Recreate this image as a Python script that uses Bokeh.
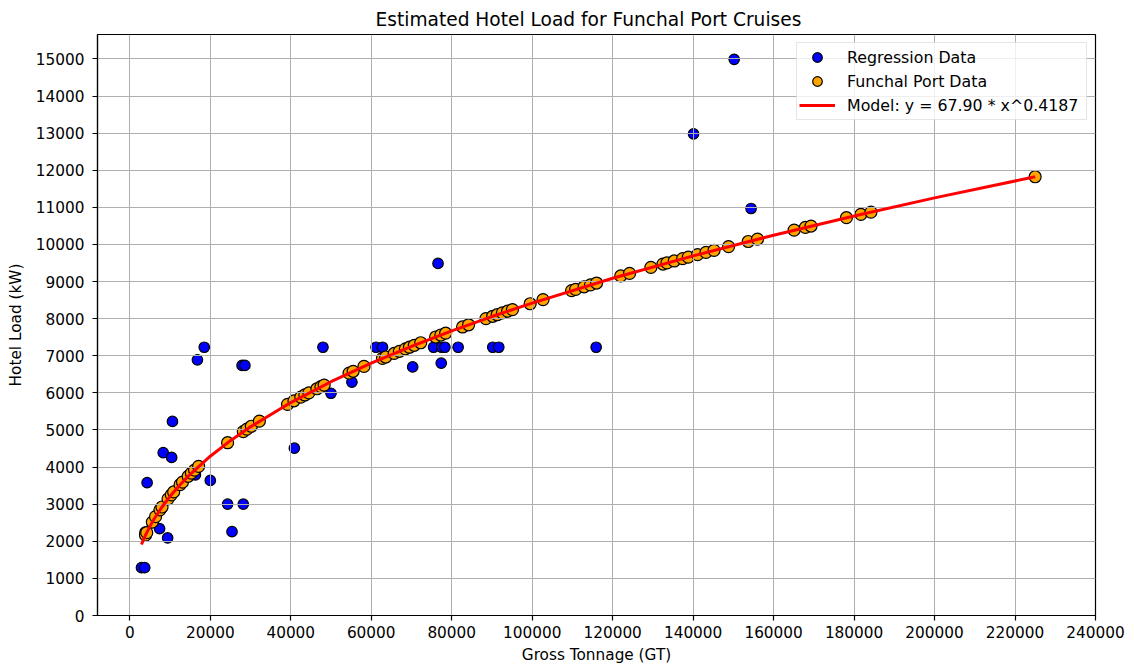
from bokeh.plotting import figure
from bokeh.models import FixedTicker, BasicTickFormatter, Range1d
from bokeh.embed import file_html
from bokeh.resources import INLINE

# Regression data (blue)
reg_gt = [2900, 3700, 3800, 4300, 7400, 9400, 8300, 10400, 10600, 16300,
          16800, 18500, 20000, 24300, 25400, 28200, 27900, 28600, 40900, 48000,
          50000, 55200, 61200, 62800, 70300, 75500, 76600, 77500, 77400, 78300,
          81600, 90200, 91700, 115900, 140100, 150200, 154400]
reg_kw = [1290, 1290, 2250, 3580, 2340, 2090, 4390, 4260, 5230, 3790,
          6890, 7230, 3640, 3000, 2260, 3000, 6740, 6740, 4510, 7230,
          5990, 6290, 7230, 7230, 6700, 7230, 9490, 7230, 6800, 7230,
          7230, 7230, 7230, 7230, 12980, 14990, 10970]

# Funchal port data (orange)
fun_gt = [3900, 4200, 5600, 6400, 7500, 8000, 9500, 10300, 10900, 12500,
          13100, 14500, 15300, 16100, 17100, 24300, 28200, 29100, 30200, 32200,
          39200, 40800, 42500, 43500, 44500, 46500, 47500, 48300, 54500, 55500,
          58200, 62800, 63600, 65700, 67000, 68500, 69500, 70700, 72300, 76000,
          77300, 78500, 82700, 84200, 88500, 90200, 91300, 92600, 93900, 95100,
          99500, 102700, 109800, 110800, 112900, 114500, 116000, 122000, 124200, 129500,
          132500, 133500, 135300, 137400, 138800, 141100, 143200, 145200, 148800, 153700,
          156000, 165100, 167900, 169300, 178100, 181700, 184200, 225000]
fun_kw = [2165, 2233, 2519, 2664, 2847, 2925, 3144, 3252, 3330, 3526,
          3596, 3752, 3838, 3920, 4021, 4657, 4957, 5023, 5101, 5240,
          5691, 5787, 5887, 5944, 6001, 6112, 6167, 6210, 6532, 6582,
          6714, 6931, 6968, 7063, 7121, 7188, 7231, 7283, 7352, 7507,
          7561, 7609, 7777, 7836, 8002, 8065, 8107, 8155, 8202, 8246,
          8403, 8515, 8757, 8790, 8860, 8912, 8961, 9152, 9221, 9383,
          9473, 9503, 9556, 9618, 9659, 9726, 9786, 9843, 9944, 10080,
          10143, 10387, 10460, 10497, 10722, 10812, 10874, 11826]

# Model curve samples
model_gt = [2900, 3500, 4000, 5000, 6000, 8000, 10000, 12500, 15000, 20000,
            25000, 30000, 40000, 50000, 60000, 70000, 80000, 90000, 100000, 120000,
            140000, 160000, 180000, 200000, 225000]
model_kw = [1913, 2069, 2188, 2402, 2593, 2925, 3212, 3526, 3806, 4294,
            4713, 5087, 5739, 6301, 6800, 7253, 7670, 8058, 8421, 9089,
            9694, 10251, 10770, 11256, 11826]

x_ticks = list(range(0, 240001, 20000))
y_ticks = list(range(0, 15001, 1000))

FONT = "DejaVu Sans"

p = figure(width=1134, height=668, output_backend="svg", toolbar_location=None,
           x_range=Range1d(-8030, 240000), y_range=Range1d(0, 15660),
           min_border_left=97, min_border_right=39, min_border_top=34,
           min_border_bottom=53,
           title="Estimated Hotel Load for Funchal Port Cruises")

p.background_fill_color = "white"
p.border_fill_color = "white"
p.outline_line_color = "black"
p.outline_line_width = 1.2
p.outline_line_alpha = 1.0

p.title.align = "left"
p.title.offset = 278
p.title.text_font = FONT
p.title.text_font_size = "18.6px"
p.title.text_font_style = "normal"
p.title.text_color = "black"

p.xaxis.ticker = FixedTicker(ticks=x_ticks)
p.yaxis.ticker = FixedTicker(ticks=y_ticks)
p.xaxis.formatter = BasicTickFormatter(use_scientific=False)
p.yaxis.formatter = BasicTickFormatter(use_scientific=False)
p.xaxis.axis_label = "Gross Tonnage (GT)"
p.yaxis.axis_label = "Hotel Load (kW)"

for ax in (p.xaxis[0], p.yaxis[0]):
    ax.axis_line_color = "black"
    ax.axis_line_width = 1.2
    ax.major_tick_line_color = "black"
    ax.major_tick_line_width = 1.2
    ax.major_tick_out = 5
    ax.major_tick_in = 0
    ax.minor_tick_line_color = None
    ax.major_label_text_font = FONT
    ax.major_label_text_font_size = "15.3px"
    ax.major_label_text_color = "black"
    ax.axis_label_text_font = FONT
    ax.axis_label_text_font_size = "15.3px"
    ax.axis_label_text_font_style = "normal"
    ax.axis_label_text_color = "black"
p.yaxis[0].major_label_standoff = 8
p.yaxis[0].axis_label_standoff = 8
p.xaxis[0].major_label_standoff = 5
p.xaxis[0].axis_label_standoff = 5

for g in (p.xgrid[0], p.ygrid[0]):
    g.grid_line_color = "#b0b0b0"
    g.grid_line_width = 1
    g.level = "glyph"
p.xgrid[0].ticker = FixedTicker(ticks=x_ticks)
p.ygrid[0].ticker = FixedTicker(ticks=y_ticks)

r1 = p.scatter(reg_gt, reg_kw, size=10.5, fill_color="blue", line_color="black",
               line_width=1.2, legend_label="Regression Data", level="underlay")
r2 = p.scatter(fun_gt, fun_kw, size=12, fill_color="orange", line_color="black",
               line_width=1.2, legend_label="Funchal Port Data", level="underlay")
r3 = p.line(model_gt, model_kw, line_color="red", line_width=3,
            legend_label="Model: y = 67.90 * x^0.4187", level="annotation")

lg = p.legend[0]
lg.location = "top_right"
lg.margin = 8
lg.padding = 2
lg.spacing = 0
lg.glyph_width = 36
lg.glyph_height = 24
lg.label_height = 24
lg.label_width = 237
lg.label_standoff = 12
lg.label_text_font = FONT
lg.label_text_font_size = "15.8px"
lg.label_text_color = "black"
lg.border_line_color = "#cccccc"
lg.border_line_width = 1
lg.background_fill_color = "white"
lg.background_fill_alpha = 0.8

open("out.html", "w").write(file_html(p, INLINE))
